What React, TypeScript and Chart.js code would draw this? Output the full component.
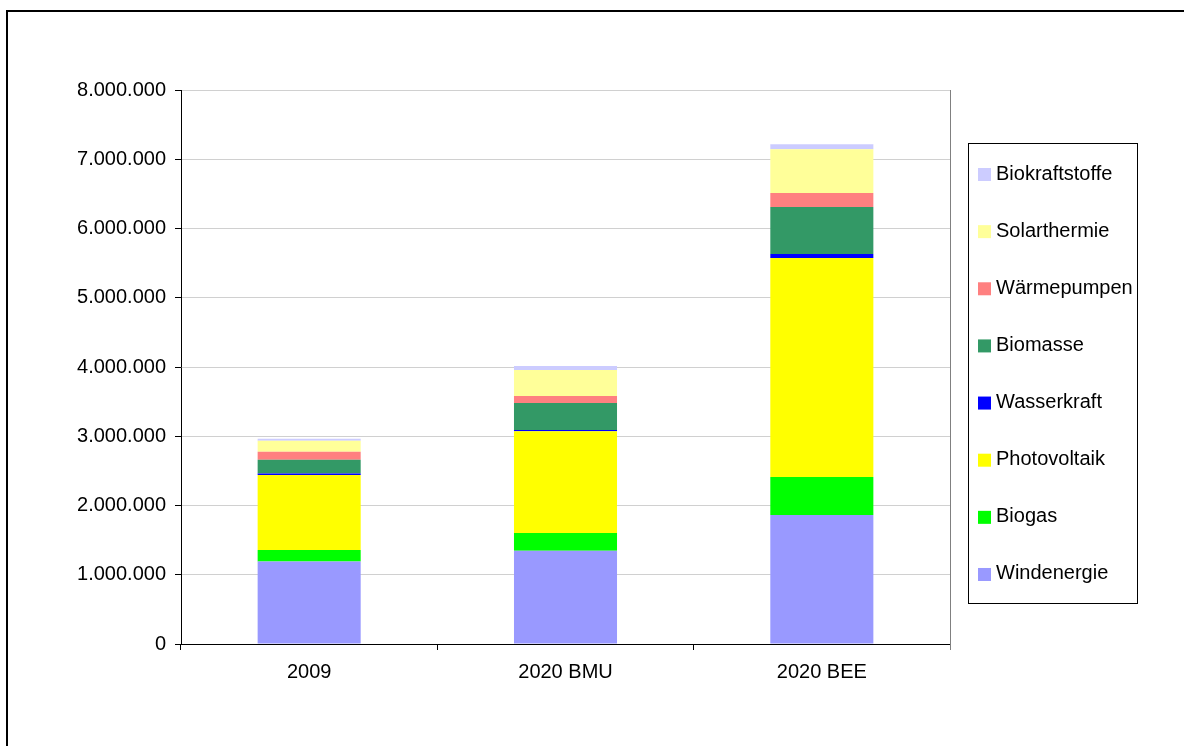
import React, { useEffect, useRef } from "react";
import { Chart, registerables } from "chart.js";

Chart.register(...registerables);

const categories = ["2009", "2020 BMU", "2020 BEE"];
const seriesNames = [
  "Windenergie",
  "Biogas",
  "Photovoltaik",
  "Wasserkraft",
  "Biomasse",
  "Wärmepumpen",
  "Solarthermie",
  "Biokraftstoffe",
];
const windenergie = [1190000, 1347000, 1863000];
const biogas = [168000, 256000, 549000];
const photovoltaik = [1083000, 1468000, 3162000];
const wasserkraft = [20000, 20000, 58000];
const biomasse = [200000, 390000, 679000];
const waermepumpen = [115000, 100000, 200000];
const solarthermie = [158000, 375000, 635000];
const biokraftstoffe = [30000, 57000, 70000];
const seriesColors = [
  "#9999FF",
  "#00FF00",
  "#FFFF00",
  "#0000FF",
  "#339966",
  "#FF8080",
  "#FFFF99",
  "#CCCCFF",
];
const yMax = 8000000;
const yStep = 1000000;

const fmt = (v: number) =>
  String(Math.round(v)).replace(/\B(?=(\d{3})+(?!\d))/g, ".");

const FONT = "'Liberation Sans', Arial, sans-serif";

const framePlugin = {
  id: "frame",
  beforeDraw(chart: any) {
    const ctx = chart.ctx;
    ctx.save();
    ctx.fillStyle = "#fff";
    ctx.fillRect(0, 0, chart.width, chart.height);
    ctx.strokeStyle = "#000";
    ctx.lineWidth = 2;
    ctx.strokeRect(7, 11, 1400, 1000);
    ctx.restore();
  },
  afterDraw(chart: any) {
    const ctx = chart.ctx;
    const a = chart.chartArea;
    ctx.save();
    // right border of plot area
    ctx.strokeStyle = "#808080";
    ctx.lineWidth = 1;
    ctx.beginPath();
    ctx.moveTo(Math.round(a.right) + 0.5, a.top);
    ctx.lineTo(Math.round(a.right) + 0.5, a.bottom + 6);
    ctx.stroke();
    // legend
    const bx = a.right + 18;
    const by = 143;
    const bw = 169;
    const bh = 460;
    ctx.strokeStyle = "#000";
    ctx.strokeRect(bx + 0.5, by + 0.5, bw, bh);
    const ds = chart.data.datasets;
    const n = ds.length;
    const step = 57.14;
    ctx.font = "20px " + FONT;
    ctx.textBaseline = "middle";
    ctx.textAlign = "left";
    for (let i = 0; i < n; i++) {
      const d = ds[n - 1 - i];
      const cy = by + 31 + i * step;
      ctx.fillStyle = d.backgroundColor;
      ctx.fillRect(bx + 10, cy - 6, 13, 13);
      ctx.fillStyle = "#000";
      ctx.fillText(d.label, bx + 28, cy);
    }
    ctx.restore();
  },
};

export default function App() {
  const ref = useRef<HTMLCanvasElement | null>(null);
  useEffect(() => {
    if (!ref.current) return;
    Chart.defaults.font.family = FONT;
    Chart.defaults.color = "#000";
    const values = [
      windenergie,
      biogas,
      photovoltaik,
      wasserkraft,
      biomasse,
      waermepumpen,
      solarthermie,
      biokraftstoffe,
    ];
    const chart = new Chart(ref.current, {
      type: "bar",
      data: {
        labels: categories,
        datasets: seriesNames.map((name, i) => ({
          label: name,
          data: values[i],
          backgroundColor: seriesColors[i],
          borderWidth: 0,
          barPercentage: 0.402,
          categoryPercentage: 1,
        })),
      },
      options: {
        animation: false,
        responsive: true,
        maintainAspectRatio: false,
        layout: { padding: { left: 0, right: 234, top: 90, bottom: 0 } },
        plugins: {
          legend: { display: false },
          tooltip: { enabled: false },
        },
        scales: {
          x: {
            stacked: true,
            offset: true,
            grid: {
              offset: true,
              drawOnChartArea: false,
              drawTicks: true,
              tickLength: 6,
              tickColor: "#000",
            },
            border: { color: "#000", width: 1 },
            ticks: { font: { size: 20 }, color: "#000", padding: 10 },
            afterFit(s: any) {
              s.height = 102;
            },
          },
          y: {
            stacked: true,
            min: 0,
            max: yMax,
            ticks: {
              stepSize: yStep,
              font: { size: 20 },
              color: "#000",
              padding: 9,
              callback: (v: any) => fmt(Number(v)),
            },
            grid: {
              color: "#D0D0D0",
              tickColor: "#000",
              tickLength: 6,
            },
            border: { color: "#000", width: 1 },
            afterFit(s: any) {
              s.width = 181;
            },
          },
        },
      },
      plugins: [framePlugin],
    });
    return () => chart.destroy();
  }, []);
  return (
    <div
      style={{
        position: "absolute",
        left: 0,
        top: 0,
        width: 1184,
        height: 746,
        background: "#fff",
      }}
    >
      <canvas ref={ref} />
    </div>
  );
}
